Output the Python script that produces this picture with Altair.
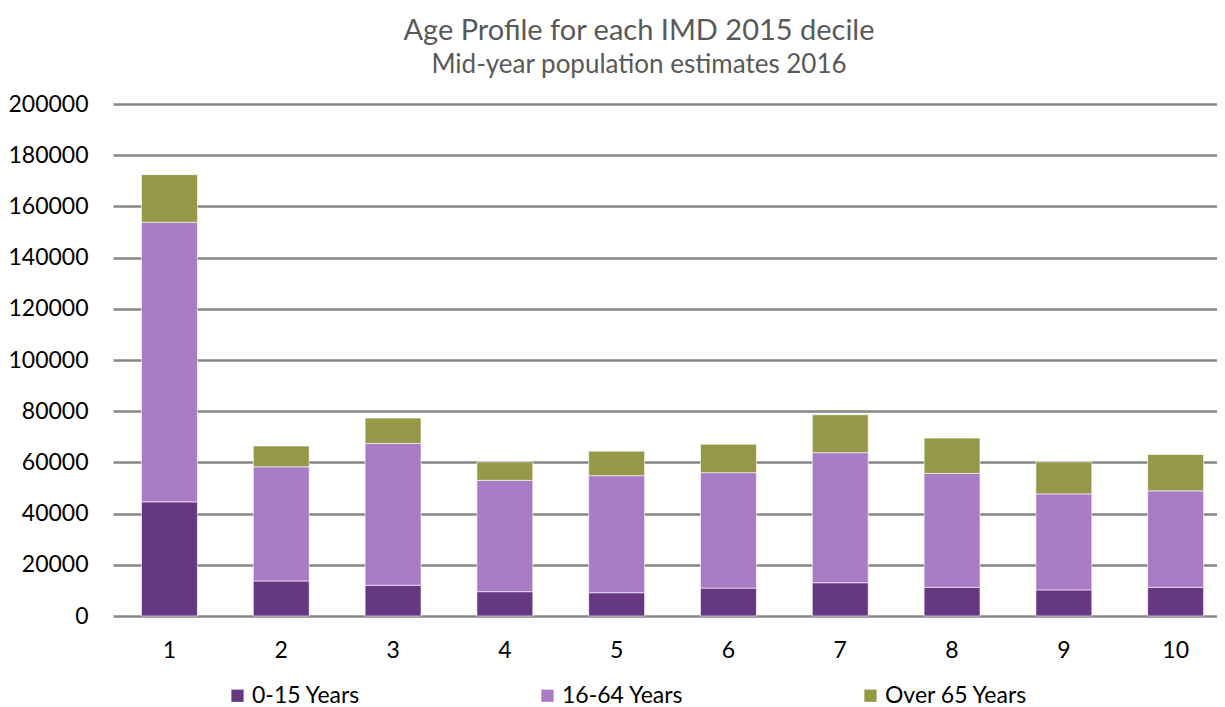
import altair as alt
import pandas as pd

deciles = ["1", "2", "3", "4", "5", "6", "7", "8", "9", "10"]
age_groups = ["0-15 Years", "16-64 Years", "Over 65 Years"]
young = [44600, 13700, 12000, 9500, 9100, 10900, 13000, 11200, 10200, 11200]
working = [109200, 44600, 55400, 43500, 45700, 45100, 50800, 44500, 37500, 37700]
older = [18600, 8100, 9900, 7200, 9600, 11100, 14800, 13800, 12500, 14200]
colors = ["#673882", "#A77CC5", "#959846"]
y_ticks = [0, 20000, 40000, 60000, 80000, 100000, 120000, 140000, 160000, 180000, 200000]

rows = []
for series, name in zip([young, working, older], age_groups):
    for d, v in zip(deciles, series):
        rows.append({"decile": d, "group": name, "value": v, "order": age_groups.index(name)})
df = pd.DataFrame(rows)

FONT = "Lato"

chart = alt.Chart(df).mark_bar(stroke="white", strokeWidth=1, strokeOpacity=0.6).encode(
    x=alt.X("decile:N", sort=deciles, title=None,
            scale=alt.Scale(paddingInner=0.5, paddingOuter=0.1875, align=0.68),
            axis=alt.Axis(labelAngle=0, ticks=False, domain=False, labelPadding=23,
                          labelFontSize=23, labelColor="#000000", labelFont=FONT)),
    y=alt.Y("value:Q", title=None, stack="zero",
            scale=alt.Scale(domain=[0, 200000], nice=False),
            axis=alt.Axis(values=y_ticks, format="d", ticks=False, domain=False,
                          labelPadding=25, labelFontSize=23, labelColor="#000000",
                          labelFont=FONT, gridColor="#868686", gridWidth=2.5)),
    color=alt.Color("group:N", sort=age_groups, title=None,
                    scale=alt.Scale(domain=age_groups, range=colors),
                    legend=alt.Legend(orient="none", legendX=113, legendY=580,
                                      direction="horizontal", columnPadding=175,
                                      symbolType="square", symbolSize=150,
                                      symbolStrokeWidth=0, labelFontSize=23,
                                      labelFont=FONT, labelColor="#000000",
                                      labelOffset=3)),
    order=alt.Order("order:Q", sort="ascending"),
).properties(
    width=1104,
    height=512,
    title=alt.TitleParams(
        text="Age Profile for each IMD 2015 decile",
        subtitle="Mid-year population estimates 2016",
        anchor="middle", dx=-26, offset=15,
        font=FONT, fontSize=29, fontWeight="normal", color="#595959",
        subtitleFont=FONT, subtitleFontSize=26, subtitleColor="#595959",
        subtitlePadding=6,
    ),
    autosize=alt.AutoSizeParams(type="none"),
    padding={"left": 105, "top": 96, "right": 0, "bottom": 91},
).configure_view(stroke=None)

chart.save("out.html", embed_options={"renderer": "svg", "actions": False})
